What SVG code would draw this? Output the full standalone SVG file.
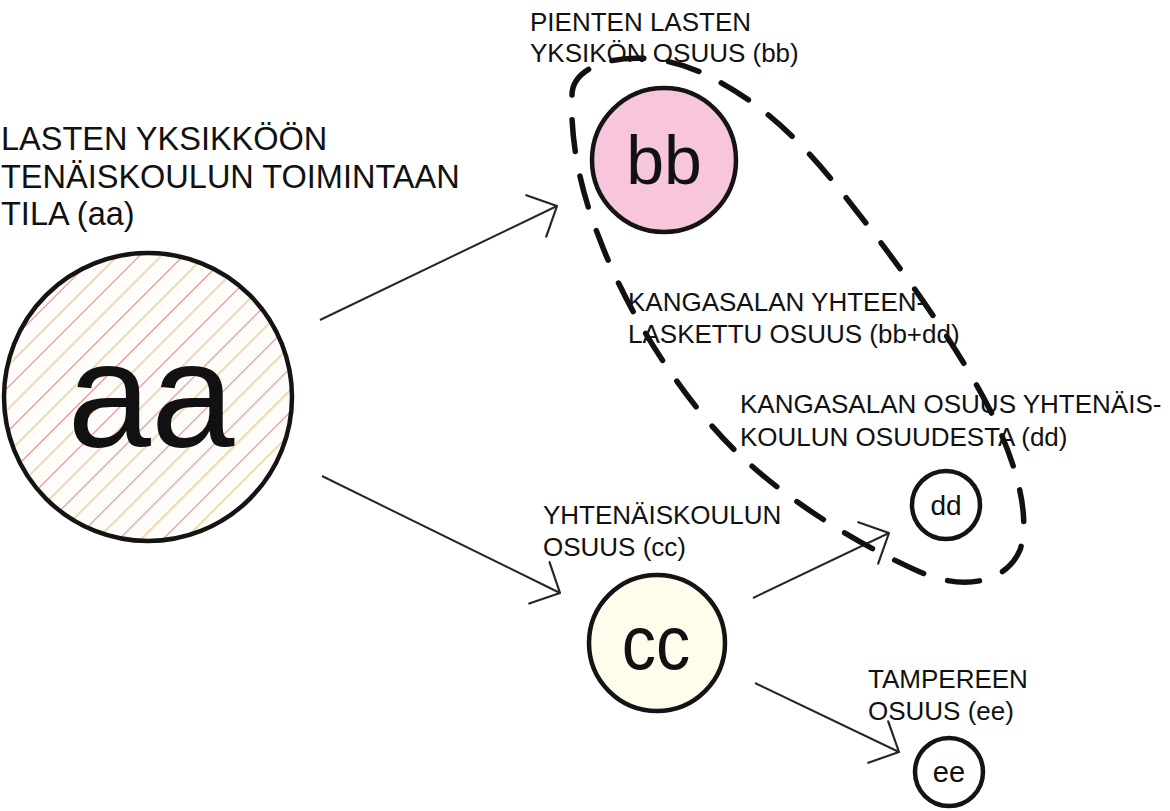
<svg xmlns="http://www.w3.org/2000/svg" width="1170" height="811" viewBox="0 0 1170 811">
<defs>
<pattern id="hatch" patternUnits="userSpaceOnUse" width="31" height="31" patternTransform="rotate(45)">
<rect width="31" height="31" fill="#fffdfa"/>
<line x1="0.5" y1="0" x2="0.5" y2="31" stroke="#e48888" stroke-width="1.1"/>
<line x1="16" y1="0" x2="16" y2="31" stroke="#e8b878" stroke-width="1.1"/>
</pattern>
<marker id="vhead" markerUnits="userSpaceOnUse" markerWidth="60" markerHeight="60" refX="0" refY="0" orient="auto" overflow="visible">
<path d="M-23,-23 L0,0 L-23,23" fill="none" stroke="#262626" stroke-width="2.2" stroke-linecap="round" stroke-linejoin="round"/>
</marker>
</defs>
<style>
.node{stroke:#141414;stroke-width:4.5}
.lbl{font-family:"Liberation Sans",Arial,sans-serif;font-size:26px;fill:#111}
.title{font-family:"Liberation Sans",Arial,sans-serif;font-size:32.5px;fill:#111}
.big{font-family:"Liberation Sans",Arial,sans-serif;fill:#111;text-anchor:middle}
.conn{stroke:#262626;stroke-width:2;fill:none;marker-end:url(#vhead)}
.group{fill:none;stroke:#111;stroke-width:5.5;stroke-dasharray:32 25;stroke-linecap:round}
</style>
<rect width="1170" height="811" fill="#ffffff"/>

<g id="title">
<text class="title" x="1" y="150">LASTEN YKSIKKÖÖN</text>
<text class="title" x="1" y="188">TENÄISKOULUN TOIMINTAAN</text>
<text class="title" x="1" y="225">TILA (aa)</text>
</g>

<g id="connectors">
<line class="conn" x1="320" y1="320" x2="557" y2="206"/>
<line class="conn" x1="322" y1="476" x2="560" y2="593"/>
<line class="conn" x1="753" y1="598" x2="889" y2="533"/>
<line class="conn" x1="755" y1="683" x2="899" y2="752"/>
</g>

<g id="group-bb-dd">
<path class="group" d="M572,95 C572,60 640,45 700,72 C760,100 800,140 840,190 C900,265 960,350 990,410 C1020,470 1030,520 1020,550 C1005,585 960,590 920,572 C870,550 800,510 745,460 C690,410 630,320 600,240 C580,190 570,140 572,95 Z"/>
<text class="lbl" x="628" y="311">KANGASALAN YHTEEN-</text>
<text class="lbl" x="628" y="343">LASKETTU OSUUS (bb+dd)</text>
</g>

<g id="node-aa">
<circle class="node" cx="148" cy="397" r="144" fill="url(#hatch)"/>
<text class="big" x="151" y="447" font-size="150">aa</text>
</g>

<g id="node-bb">
<text class="lbl" x="530" y="31">PIENTEN LASTEN</text>
<text class="lbl" x="530" y="62">YKSIKÖN OSUUS (bb)</text>
<circle class="node" cx="664" cy="160" r="72" fill="#f7c5dc"/>
<text class="big" x="664" y="184" font-size="68">bb</text>
</g>

<g id="node-cc">
<text class="lbl" x="543" y="524">YHTENÄISKOULUN</text>
<text class="lbl" x="543" y="556">OSUUS (cc)</text>
<circle class="node" cx="657" cy="643" r="68" fill="#fffcec"/>
<text class="big" x="0" y="0" font-size="76" transform="translate(656 669) scale(0.9 1)">cc</text>
</g>

<g id="node-dd">
<text class="lbl" x="740" y="413">KANGASALAN OSUUS YHTENÄIS-</text>
<text class="lbl" x="740" y="446">KOULUN OSUUDESTA (dd)</text>
<circle class="node" cx="946" cy="505" r="34" fill="#ffffff"/>
<text class="big" x="946" y="515" font-size="28">dd</text>
</g>

<g id="node-ee">
<text class="lbl" x="868" y="688">TAMPEREEN</text>
<text class="lbl" x="868" y="720">OSUUS (ee)</text>
<circle class="node" cx="949" cy="772" r="34" fill="#ffffff"/>
<text class="big" x="949" y="782" font-size="29">ee</text>
</g>
</svg>
